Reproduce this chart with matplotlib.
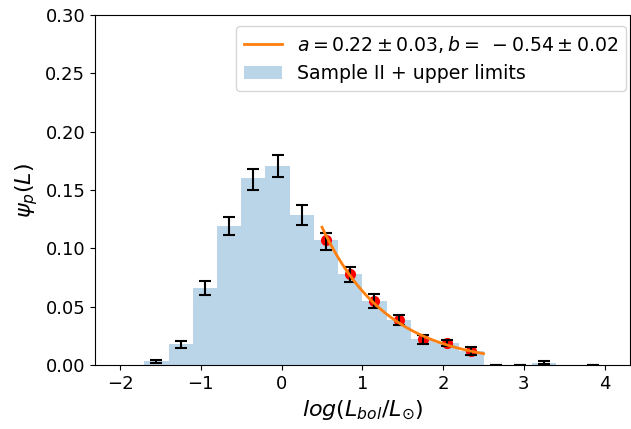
import numpy as np
import matplotlib
matplotlib.use("Agg")
import matplotlib.pyplot as plt

# bin centres (width 0.3) and histogram heights
centers = [-1.55, -1.25, -0.95, -0.65, -0.35, -0.05, 0.25, 0.55, 0.85, 1.15,
           1.45, 1.75, 2.05, 2.35, 2.65, 2.95, 3.25, 3.55, 3.85]
heights = [0.0037, 0.0177, 0.066, 0.119, 0.160, 0.1706, 0.129, 0.107, 0.078, 0.055,
           0.0386, 0.022, 0.0186, 0.0123, 0.0, 0.0, 0.002, 0.0, 0.0]

# error bars
err_x = [-1.55, -1.25, -0.95, -0.65, -0.35, -0.05, 0.25, 0.55, 0.85, 1.15,
         1.45, 1.75, 2.05, 2.35, 2.65, 2.95, 3.25, 3.85]
err_y = [0.0030, 0.0177, 0.066, 0.119, 0.159, 0.1706, 0.129, 0.106, 0.078, 0.055,
         0.0386, 0.022, 0.0186, 0.0123, 0.0, 0.0, 0.002, 0.0]
err_e = [0.0016, 0.003, 0.0058, 0.0077, 0.009, 0.0094, 0.0086, 0.0076, 0.0064, 0.0057,
         0.0044, 0.0037, 0.0026, 0.0036, 0.0, 0.0, 0.0015, 0.0]

# points used in the fit
fit_x = [0.55, 0.85, 1.15, 1.45, 1.75, 2.05, 2.35]
fit_y = [0.107, 0.078, 0.055, 0.0386, 0.022, 0.0186, 0.0123]

a, b = 0.22, -0.54
fit_label = r"$a=0.22\pm0.03, b=\;-0.54\pm0.02$"
hist_label = "Sample II + upper limits"

fig = plt.figure(figsize=(6.31, 4.29), dpi=100)
ax = fig.add_axes([0.1506, 0.149, 0.8474, 0.816])

ax.bar(centers, heights, width=0.3, color="C0", alpha=0.3, label=hist_label)
ax.plot(fit_x, fit_y, "o", color="red", markersize=7)
ax.errorbar(err_x, err_y, yerr=err_e, fmt="none", ecolor="black", capsize=4.5,
            elinewidth=1.5, capthick=1.5)
xx = np.linspace(0.5, 2.5, 200)
ax.plot(xx, a * 10 ** (b * xx), color="C1", lw=2, label=fit_label)

ax.set_xlim(-2.31, 4.31)
ax.set_ylim(0, 0.30)
ax.set_yticks(np.arange(0, 0.301, 0.05))
ax.yaxis.set_major_formatter(matplotlib.ticker.FormatStrFormatter("%.2f"))
ax.set_xticks(range(-2, 5))
ax.tick_params(labelsize=13)
ax.set_xlabel(r"$log(L_{bol}/L_{\odot})$", fontsize=16)
ax.set_ylabel(r"$\psi_p(L)$", fontsize=16)
ax.legend(loc="upper right", fontsize=13.6, bbox_to_anchor=(1.01, 0.995))

fig.savefig("out.png", dpi=100)
